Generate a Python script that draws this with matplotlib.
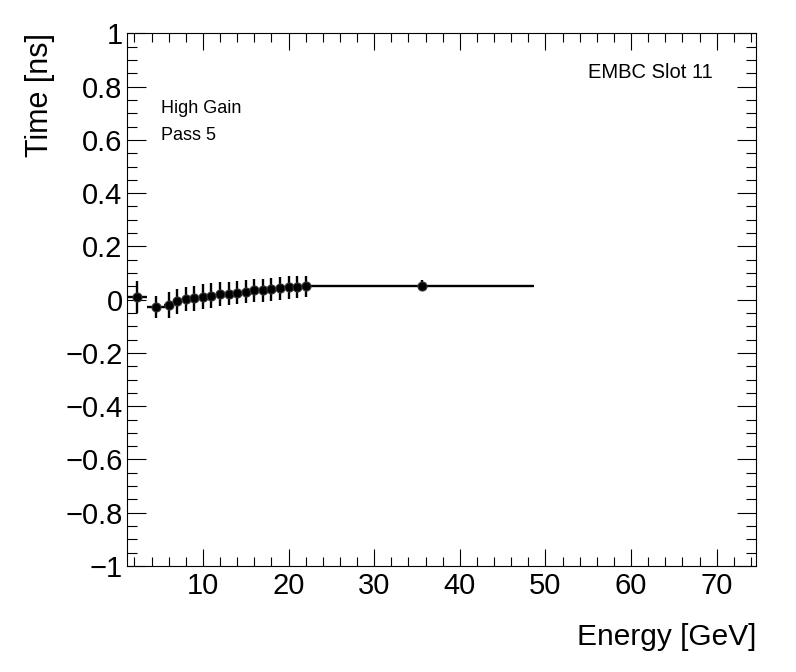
import matplotlib
matplotlib.use('Agg')
import matplotlib.pyplot as plt
from matplotlib.ticker import MultipleLocator, FuncFormatter

plt.rcParams['font.family'] = ['Liberation Sans', 'DejaVu Sans']

# energy bins (GeV) and fitted time offsets (ns)
energy = [2.35, 4.54, 6.0, 7.0, 8.0, 9.0, 10.0, 11.0, 12.0, 13.0, 14.0,
          15.0, 16.0, 17.0, 18.0, 19.0, 20.0, 21.0, 22.0, 35.6]
energy_err = [1.1, 1.07, 0.5, 0.5, 0.5, 0.5, 0.5, 0.5, 0.5, 0.5, 0.5,
              0.5, 0.5, 0.5, 0.5, 0.5, 0.5, 0.5, 0.5, 13.1]
time = [0.010, -0.027, -0.019, -0.006, 0.003, 0.006, 0.011, 0.015, 0.021,
        0.023, 0.026, 0.030, 0.035, 0.036, 0.039, 0.042, 0.046, 0.047,
        0.050, 0.053]
time_err = [0.059, 0.041, 0.049, 0.047, 0.045, 0.047, 0.046, 0.046, 0.045,
            0.044, 0.043, 0.043, 0.043, 0.043, 0.043, 0.043, 0.042, 0.041,
            0.040, 0.022]


def root_fmt(v, pos):
  s = '%g' % round(v, 6)
  if s == '-0':
    s = '0'
  return s.replace('-', '\u2212')


fig = plt.figure(figsize=(7.96, 6.72), dpi=100)
ax = fig.add_axes([0.1592, 0.1577, 0.7906, 0.7927])

ax.errorbar(energy, time, xerr=energy_err, yerr=time_err, fmt='o',
            color='black', ms=6.5, lw=1.7, capsize=0, mec='#333333', mew=0.8)

ax.set_xlim(1.1, 74.6)
ax.set_ylim(-1, 1)
ax.xaxis.set_major_locator(MultipleLocator(10))
ax.xaxis.set_minor_locator(MultipleLocator(2))
ax.yaxis.set_major_locator(MultipleLocator(0.2))
ax.yaxis.set_minor_locator(MultipleLocator(0.05))
ax.xaxis.set_major_formatter(FuncFormatter(root_fmt))
ax.yaxis.set_major_formatter(FuncFormatter(root_fmt))

ax.tick_params(which='both', direction='in', top=True, right=True,
               width=0.8, labelsize=21, color='black')
ax.tick_params(axis='x', which='major', length=12, pad=4)
ax.tick_params(axis='x', which='minor', length=6.5)
ax.tick_params(axis='y', which='major', length=13.5, pad=3)
ax.tick_params(axis='y', which='minor', length=7)
for sp in ax.spines.values():
  sp.set_linewidth(0.8)

ax.set_xlabel('Energy [GeV]', fontsize=21.5, loc='right', labelpad=17)
ax.set_ylabel('Time [ns]', fontsize=22, loc='top', labelpad=7)

ax.text(0.931, 0.9167, 'EMBC Slot 11', transform=ax.transAxes, fontsize=14.5,
        ha='right', va='baseline')
ax.text(0.054, 0.8504, 'High Gain', transform=ax.transAxes, fontsize=13,
        ha='left', va='baseline')
ax.text(0.054, 0.7997, 'Pass 5', transform=ax.transAxes, fontsize=13,
        ha='left', va='baseline')

plt.savefig('out.png', dpi=100)
